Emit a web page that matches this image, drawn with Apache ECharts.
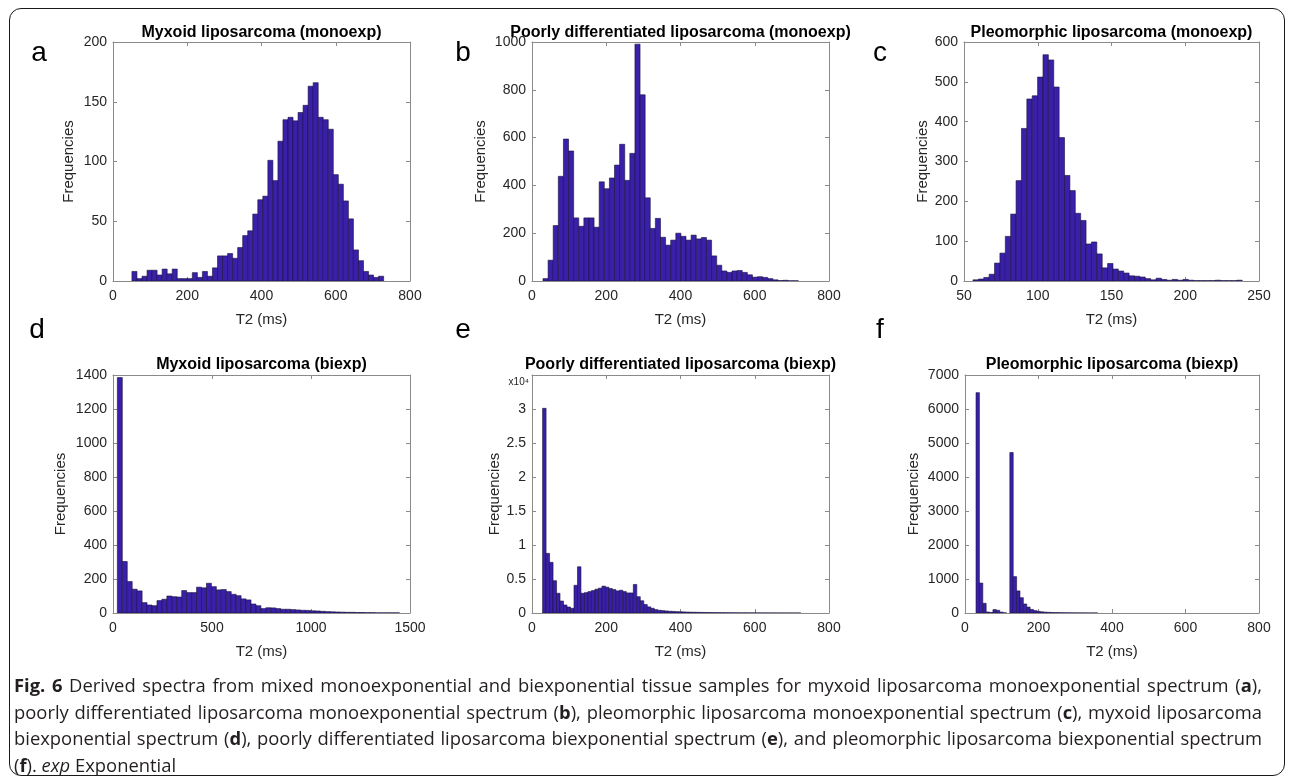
<!DOCTYPE html>
<html>
<head>
<meta charset="utf-8">
<title>Derived T2 spectra</title>
<script src="https://cdn.jsdelivr.net/npm/echarts@6/dist/echarts.min.js"></script>
<style>
  html, body { margin: 0; padding: 0; background: #fff; }
  #wrap { position: relative; width: 1293px; height: 780px; overflow: hidden; }
  #chart { position: absolute; left: 0; top: 0; width: 1293px; height: 780px; }
  #frame { position: absolute; left: 9px; top: 8px; width: 1274px; height: 766px;
           border: 1.5px solid #1a1a1a; border-radius: 12px; pointer-events: none; }
  #caption { position: absolute; left: 14px; top: 672px; width: 1248px;
             font-family: 'Open Sans', 'Noto Sans', sans-serif; font-size: 18.4px;
             line-height: 26.5px; color: #231f20; }
  #caption div { white-space: nowrap; text-align: justify; text-align-last: justify; }
  #caption div.last { text-align-last: left; }
</style>
</head>
<body>
<div id="wrap">
  <div id="chart"></div>
  <div id="frame"></div>
  <div id="caption">
    <div><b>Fig. 6</b> Derived spectra from mixed monoexponential and biexponential tissue samples for myxoid liposarcoma monoexponential spectrum (<b>a</b>),</div>
    <div>poorly differentiated liposarcoma monoexponential spectrum (<b>b</b>), pleomorphic liposarcoma monoexponential spectrum (<b>c</b>), myxoid liposarcoma</div>
    <div>biexponential spectrum (<b>d</b>), poorly differentiated liposarcoma biexponential spectrum (<b>e</b>), and pleomorphic liposarcoma biexponential spectrum</div>
    <div class="last">(<b>f</b>). <i>exp</i> Exponential</div>
  </div>
</div>
<script>
// histogram bins: first edge (ms), bin width (ms), counts per bin
const aStart = 51, aWidth = 13.56;
const aCounts = [8, 2, 4, 9, 9, 5, 10, 6, 10, 2, 2, 2, 7, 3, 8, 4, 11, 21, 21, 23,
  19, 28, 38, 42, 56, 68, 71, 101, 84, 117, 135, 137, 134, 141, 147, 163, 166, 137, 135, 127,
  89, 81, 67, 52, 26, 17, 8, 5, 3, 4];

const bStart = 29.6, bWidth = 13.76;
const bCounts = [10, 87, 232, 438, 594, 544, 264, 229, 264, 264, 225, 415, 386, 431, 485, 572, 421, 534, 991, 779,
  348, 220, 262, 183, 150, 171, 200, 187, 171, 192, 176, 182, 171, 105, 66, 42, 36, 42, 44, 36,
  26, 16, 18, 15, 10, 5, 2, 3, 1, 1];

const cStart = 56.1, cWidth = 3.65;
const cCounts = [3, 5, 9, 17, 45, 70, 112, 168, 252, 383, 457, 465, 512, 568, 555, 487, 360, 265, 227, 170,
  152, 93, 98, 68, 33, 44, 30, 25, 20, 13, 12, 10, 6, 3, 7, 4, 2, 4, 2, 4,
  2, 1, 1, 1, 1, 2, 1, 1, 1, 2];

const dStart = 22, dWidth = 25;
const dCounts = [1385, 303, 185, 140, 130, 61, 47, 43, 73, 81, 100, 96, 94, 132, 120, 120, 152, 148, 175, 155,
  136, 138, 126, 110, 102, 83, 77, 53, 43, 26, 31, 30, 26, 22, 22, 20, 18, 16, 15, 13,
  12, 10, 8, 7, 6, 5, 4, 4, 3, 3, 2, 2, 1, 1, 1, 1, 1];

const eStart = 28.5, eWidth = 9.4;
const eCounts = [30100, 8770, 7450, 4750, 2900, 1760, 1180, 880, 690, 4070, 6800, 2900, 3000, 3150, 3300, 3500, 3650, 3950, 3800, 3600,
  3450, 3250, 3350, 3150, 2950, 2950, 4200, 2400, 1800, 1250, 900, 700, 500, 400, 350, 300, 260, 230, 200, 180,
  160, 140, 120, 110, 100, 90, 80, 70, 60, 55, 50, 45, 40, 36, 32, 28, 25, 22, 20, 18,
  16, 14, 12, 11, 10, 9, 8, 7, 6, 5, 5, 4, 3, 3];

const fStart = 30, fWidth = 9.2;
const fCounts = [6480, 880, 285, 30, 15, 100, 80, 25, 5, 0, 4720, 1070, 650, 450, 265, 175, 105, 70, 50, 35,
  25, 20, 15, 12, 10, 8, 6, 5, 4, 3, 3, 2, 2, 1, 1, 1];

// axis ranges [min, max, interval]
const xRanges = { a: [0, 800, 200], b: [0, 800, 200], c: [50, 250, 50], d: [0, 1500, 500], e: [0, 800, 200], f: [0, 800, 200] };
const yRanges = { a: [0, 200, 50], b: [0, 1000, 200], c: [0, 600, 100], d: [0, 1400, 200], e: [0, 35000, 5000], f: [0, 7000, 1000] };

const titles = {
  a: 'Myxoid liposarcoma (monoexp)',
  b: 'Poorly differentiated liposarcoma (monoexp)',
  c: 'Pleomorphic liposarcoma (monoexp)',
  d: 'Myxoid liposarcoma (biexp)',
  e: 'Poorly differentiated liposarcoma (biexp)',
  f: 'Pleomorphic liposarcoma (biexp)'
};

const FONT = 'Liberation Sans';
const BAR_FILL = '#3a20a8';
const BAR_EDGE = '#17113d';
const AXIS_COLOR = '#8a8a8a';
const LABEL_COLOR = '#262626';

const panels = [
  { key: 'a', start: aStart, width: aWidth, counts: aCounts, grid: { left: 113, top: 42, width: 297, height: 239 }, nameGap: 37, letter: [39, 53] },
  { key: 'b', start: bStart, width: bWidth, counts: bCounts, grid: { left: 532, top: 42, width: 297, height: 239 }, nameGap: 44, letter: [463, 53] },
  { key: 'c', start: cStart, width: cWidth, counts: cCounts, grid: { left: 964, top: 42, width: 295, height: 239 }, nameGap: 34, letter: [880, 53] },
  { key: 'd', start: dStart, width: dWidth, counts: dCounts, grid: { left: 113, top: 375, width: 297, height: 238 }, nameGap: 45, letter: [37, 330] },
  { key: 'e', start: eStart, width: eWidth, counts: eCounts, grid: { left: 532, top: 375, width: 297, height: 238 }, nameGap: 27, letter: [463, 330] },
  { key: 'f', start: fStart, width: fWidth, counts: fCounts, grid: { left: 965, top: 375, width: 294, height: 238 }, nameGap: 44, letter: [880, 330] }
];

function histBar(params, api) {
  const top = api.coord([api.value(0), api.value(2)]);
  const base = api.coord([api.value(1), 0]);
  return {
    type: 'rect',
    shape: { x: top[0], y: top[1], width: base[0] - top[0], height: base[1] - top[1] },
    style: { fill: BAR_FILL, stroke: BAR_EDGE, lineWidth: 0.6 }
  };
}

const option = { animation: false, backgroundColor: '#fff', grid: [], xAxis: [], yAxis: [], series: [], graphic: [] };

panels.forEach((p, i) => {
  const xr = xRanges[p.key], yr = yRanges[p.key];
  option.grid.push(p.grid);

  const tick = { inside: true, length: 4, lineStyle: { color: AXIS_COLOR } };
  const line = { onZero: false, lineStyle: { color: AXIS_COLOR, width: 1 } };
  const labelStyle = { color: LABEL_COLOR, fontSize: 14, fontFamily: FONT, formatter: v => String(v) };

  option.xAxis.push({
    type: 'value', gridIndex: i, position: 'bottom', min: xr[0], max: xr[1], interval: xr[2],
    splitLine: { show: false }, axisLine: line, axisTick: tick,
    axisLabel: Object.assign({ margin: 8 }, labelStyle),
    name: 'T2 (ms)', nameLocation: 'middle', nameGap: 31,
    nameTextStyle: { color: LABEL_COLOR, fontSize: 15, fontFamily: FONT }
  });
  option.xAxis.push({
    type: 'value', gridIndex: i, position: 'top', min: xr[0], max: xr[1], interval: xr[2],
    splitLine: { show: false }, axisLine: line, axisTick: tick, axisLabel: { show: false }
  });

  const yLabel = Object.assign({ margin: 6 }, labelStyle);
  if (p.key === 'e') {
    yLabel.formatter = v => String(v / 10000);
    yLabel.showMaxLabel = false;
  }
  option.yAxis.push({
    type: 'value', gridIndex: i, position: 'left', min: yr[0], max: yr[1], interval: yr[2],
    splitLine: { show: false }, axisLine: line, axisTick: tick, axisLabel: yLabel,
    name: 'Frequencies', nameLocation: 'middle', nameGap: p.nameGap,
    nameTextStyle: { color: LABEL_COLOR, fontSize: 15, fontFamily: FONT }
  });
  option.yAxis.push({
    type: 'value', gridIndex: i, position: 'right', min: yr[0], max: yr[1], interval: yr[2],
    splitLine: { show: false }, axisLine: line, axisTick: tick, axisLabel: { show: false }
  });

  const data = p.counts
    .map((c, k) => [p.start + k * p.width, p.start + (k + 1) * p.width, c])
    .filter(d => d[2] > 0);
  option.series.push({
    type: 'custom', xAxisIndex: 2 * i, yAxisIndex: 2 * i,
    renderItem: histBar, encode: { x: [0, 1], y: 2 }, clip: true, data: data
  });

  const titleY = p.grid.top < 100 ? 33 : 365;
  option.graphic.push({
    type: 'text', x: p.grid.left + p.grid.width / 2, y: titleY,
    style: { text: titles[p.key], font: 'bold 16px ' + FONT, fill: '#000',
             align: 'center', verticalAlign: 'middle', textAlign: 'center', textVerticalAlign: 'middle' }
  });
  option.graphic.push({
    type: 'text', x: p.letter[0], y: p.letter[1],
    style: { text: p.key, font: '28px ' + FONT, fill: '#000',
             align: 'center', verticalAlign: 'middle', textAlign: 'center', textVerticalAlign: 'middle' }
  });
});

// exponent marker of panel e
option.graphic.push({
  type: 'text', x: 529, y: 382,
  style: { text: 'x10⁴', font: '10px ' + FONT, fill: LABEL_COLOR,
           align: 'right', verticalAlign: 'middle', textAlign: 'right', textVerticalAlign: 'middle' }
});

const chart = echarts.init(document.getElementById('chart'), null, { renderer: 'canvas' });
chart.setOption(option);
</script>
</body>
</html>
